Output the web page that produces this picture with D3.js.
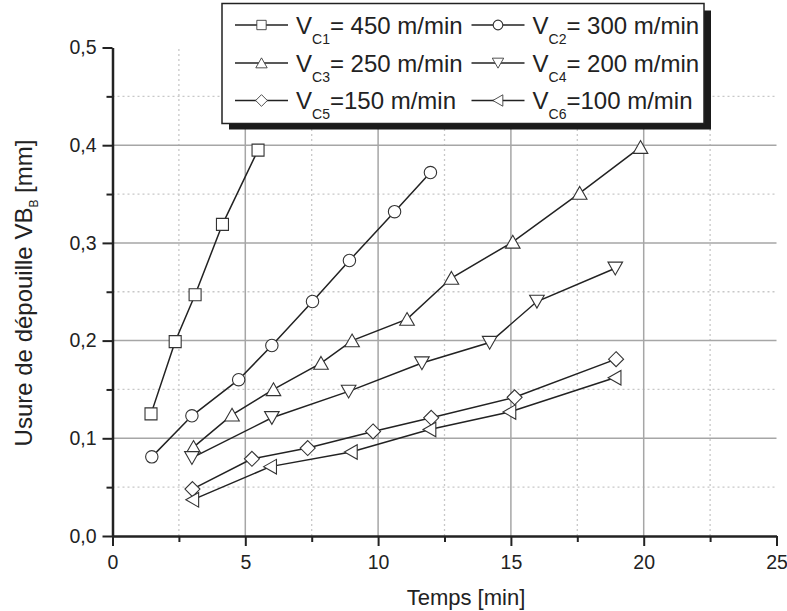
<!DOCTYPE html>
<html lang="fr">
<head>
  <meta charset="UTF-8">
  <title>Usure de dépouille VB</title>
  <script src="https://d3js.org/d3.v7.min.js"></script>
  <style>
    body { margin: 0; background: #fff; }
    svg { display: block; }
    text { font-family: "Liberation Sans", Arial, sans-serif; fill: #222; }
    .grid-major { stroke: #a6a6a6; stroke-width: 1.5; }
    .grid-minor { stroke: #c8c8c8; stroke-width: 1.3; stroke-dasharray: 2,3; }
    .serie { fill: none; stroke: #222; stroke-width: 1.5; }
    .marker { fill: #fff; stroke: #333; stroke-width: 1.1; }
  </style>
</head>
<body>
<svg width="787" height="611"></svg>

<script>
  // valeurs
  const labels = ["450 m/min", "300 m/min", "250 m/min", "200 m/min", "150 m/min", "100 m/min"];
  const subs = ["C1", "C2", "C3", "C4", "C5", "C6"];
  const eqs = ["= ", "= ", "= ", "= ", "=", "="];
  const symbols = ["square", "circle", "up", "down", "diamond", "left"];

  const t1 = [1.45, 2.36, 3.11, 4.14, 5.48];
  const v1 = [0.125, 0.199, 0.247, 0.319, 0.395];
  const t2 = [1.48, 2.99, 4.75, 6.0, 7.53, 8.92, 10.62, 11.97];
  const v2 = [0.081, 0.123, 0.160, 0.195, 0.240, 0.282, 0.332, 0.372];
  const t3 = [3.05, 4.5, 6.06, 7.85, 9.02, 11.09, 12.76, 15.07, 17.59, 19.88];
  const v3 = [0.091, 0.124, 0.150, 0.177, 0.200, 0.222, 0.264, 0.301, 0.351, 0.398];
  const t4 = [2.99, 6.0, 8.89, 11.65, 14.2, 15.98, 18.93];
  const v4 = [0.080, 0.121, 0.148, 0.177, 0.198, 0.240, 0.274];
  const t5 = [3.01, 5.25, 7.35, 9.81, 12.0, 15.14, 18.96];
  const v5 = [0.048, 0.079, 0.090, 0.107, 0.121, 0.142, 0.181];
  const t6 = [3.01, 5.94, 8.98, 11.94, 14.95, 18.91];
  const v6 = [0.037, 0.071, 0.086, 0.109, 0.127, 0.162];

  const times = [t1, t2, t3, t4, t5, t6];
  const wear = [v1, v2, v3, v4, v5, v6];

  const xTicks = [0, 5, 10, 15, 20, 25];
  const yTicks = [0, 0.1, 0.2, 0.3, 0.4, 0.5];

  const svg = d3.select("svg");
  const x = d3.scaleLinear().domain([0, 25]).range([112.5, 776.5]);
  const y = d3.scaleLinear().domain([0, 0.5]).range([536, 47.5]);

  // grille
  const grid = svg.append("g");
  d3.range(0.05, 0.5, 0.1).forEach(v => {
    grid.append("line").attr("class", "grid-minor")
      .attr("x1", x(0)).attr("x2", x(25)).attr("y1", y(v)).attr("y2", y(v));
  });
  d3.range(2.5, 25, 5).forEach(t => {
    grid.append("line").attr("class", "grid-minor")
      .attr("x1", x(t)).attr("x2", x(t)).attr("y1", y(0)).attr("y2", y(0.5));
  });
  yTicks.filter(v => v > 0 && v < 0.5).forEach(v => {
    grid.append("line").attr("class", "grid-major")
      .attr("x1", x(0)).attr("x2", x(25)).attr("y1", y(v)).attr("y2", y(v));
  });
  xTicks.filter(t => t > 0 && t < 25).forEach(t => {
    grid.append("line").attr("class", "grid-major")
      .attr("x1", x(t)).attr("x2", x(t)).attr("y1", y(0)).attr("y2", y(0.5));
  });

  // axes
  const fmt = d3.format(".1f");
  const xAxis = svg.append("g").attr("transform", `translate(0,${y(0)})`)
    .call(d3.axisBottom(x).tickValues(xTicks).tickSize(10).tickSizeOuter(0).tickPadding(9));
  const xMinor = svg.append("g").attr("transform", `translate(0,${y(0)})`)
    .call(d3.axisBottom(x).tickValues(d3.range(2.5, 25, 5)).tickSize(6).tickFormat(""));
  const yAxis = svg.append("g").attr("transform", `translate(${x(0)},0)`)
    .call(d3.axisLeft(y).tickValues(yTicks).tickSize(10).tickSizeOuter(0).tickPadding(6)
      .tickFormat(d => fmt(d).replace(".", ",")));
  const yMinor = svg.append("g").attr("transform", `translate(${x(0)},0)`)
    .call(d3.axisLeft(y).tickValues(d3.range(0.05, 0.5, 0.1)).tickSize(6).tickFormat(""));

  [xAxis, yAxis, xMinor, yMinor].forEach(a => {
    a.selectAll(".domain").attr("stroke", "#222").attr("stroke-width", 2.5);
    a.selectAll(".tick line").attr("stroke", "#222").attr("stroke-width", 2);
    a.selectAll("text").attr("font-size", 19.5).attr("fill", "#222")
      .attr("font-family", "'Liberation Sans', Arial, sans-serif");
  });
  xMinor.select(".domain").remove();
  yMinor.select(".domain").remove();

  // titres
  svg.append("text").attr("x", 466).attr("y", 605)
    .attr("text-anchor", "middle").attr("font-size", 22).text("Temps [min]");

  const yt = svg.append("text")
    .attr("transform", "translate(32,293) rotate(-90)")
    .attr("text-anchor", "middle").attr("font-size", 24);
  yt.append("tspan").text("Usure de dépouille VB");
  yt.append("tspan").attr("font-size", 12).attr("dy", 6).text("B");
  yt.append("tspan").attr("dy", -6).text(" [mm]");

  // symboles
  const shapes = {
    square: "M-6,-6H6V6H-6Z",
    up: "M0,-6.6L7.3,6.2L-7.3,6.2Z",
    down: "M-7.3,-6.2L7.3,-6.2L0,6.6Z",
    diamond: "M0,-7.5L7.5,0L0,7.5L-7.5,0Z",
    left: "M-6.6,0L6.2,-7.3L6.2,7.3Z"
  };

  function drawMarker(g, kind, cx, cy, k) {
    if (kind === "circle") {
      g.append("circle").attr("class", "marker")
        .attr("cx", cx).attr("cy", cy).attr("r", 6.2 * k);
    } else {
      g.append("path").attr("class", "marker")
        .attr("d", shapes[kind])
        .attr("transform", `translate(${cx},${cy}) scale(${k})`)
        .attr("stroke-width", 1.1 / k);
    }
  }

  const line = d3.line().x(d => x(d[0])).y(d => y(d[1]));
  const plot = svg.append("g");
  times.forEach((ts, i) => {
    const pts = ts.map((t, j) => [t, wear[i][j]]);
    plot.append("path").attr("class", "serie").attr("d", line(pts));
  });
  times.forEach((ts, i) => {
    ts.forEach((t, j) => drawMarker(plot, symbols[i], x(t), y(wear[i][j]), 1));
  });

  // légende
  const leg = svg.append("g");
  leg.append("rect").attr("x", 229).attr("y", 10.5).attr("width", 482).attr("height", 119)
    .attr("fill", "#1a1a1a");
  leg.append("rect").attr("x", 222).attr("y", 3.5).attr("width", 482).attr("height", 120)
    .attr("fill", "#fff").attr("stroke", "#222").attr("stroke-width", 1.5);

  const colX = [235, 471.5];
  const rowY = [25, 63, 100.5];
  labels.forEach((lab, i) => {
    const lx = colX[i % 2], ly = rowY[Math.floor(i / 2)];
    leg.append("line").attr("x1", lx).attr("x2", lx + 53).attr("y1", ly).attr("y2", ly)
      .attr("stroke", "#222").attr("stroke-width", 1.5);
    drawMarker(leg, symbols[i], lx + 26.5, ly, 0.78);
    const tx = leg.append("text").attr("x", lx + 61).attr("y", ly + 8.5).attr("font-size", 24);
    tx.append("tspan").text("V");
    tx.append("tspan").attr("font-size", 14).attr("dy", 10).text(subs[i]);
    tx.append("tspan").attr("dy", -10).text(eqs[i] + lab);
  });
</script>
</body>
</html>
